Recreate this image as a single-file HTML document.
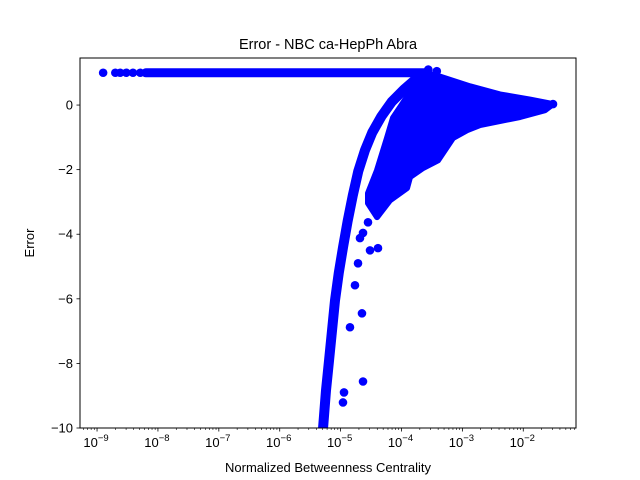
<!DOCTYPE html>
<html><head><meta charset="utf-8"><style>
html,body{margin:0;padding:0;background:#fff}
svg{display:block;font-family:"Liberation Sans","DejaVu Sans",sans-serif}
</style></head><body>
<svg id="chart" width="640" height="480" viewBox="0 0 640 480">
<rect x="0" y="0" width="640" height="480" fill="#fff"/>
<text x="328" y="49" text-anchor="middle" font-size="14.5" fill="#000">Error - NBC ca-HepPh Abra</text>
<text x="328" y="472" text-anchor="middle" font-size="13" fill="#000">Normalized Betweenness Centrality</text>
<text x="34" y="243" text-anchor="middle" font-size="13" fill="#000" transform="rotate(-90 34 243)">Error</text>
<g id="plot"></g>
<g id="axes"></g>
</svg>
<script>
// ---- data (x in log10 units, y = error) ----
const yTicks = [-10, -8, -6, -4, -2, 0];
const xDecades = [-9, -8, -7, -6, -5, -4, -3, -2];
// top plateau at error = 1
const plateauLogX = [-8.2, -3.6];
const plateauY = [1, 1];
const plateauPtsLogX = [-8.90, -8.70, -8.62, -8.52, -8.41, -8.29];
const plateauPtsY = [1, 1, 1, 1, 1, 1];
// main curve band
const curveLogX = [-5.289, -5.240, -5.190, -5.141, -5.092, -5.030, -4.960, -4.885, -4.800, -4.710, -4.600, -4.480, -4.330, -4.160, -3.960, -3.778, -3.614];
const curveY = [-10.02, -8.84, -7.91, -6.98, -6.05, -5.20, -4.40, -3.60, -2.80, -2.05, -1.40, -0.85, -0.35, 0.10, 0.48, 0.78, 0.98];
// dense cloud outline
const cloudLogX = [-3.614, -3.368, -2.875, -2.383, -1.890, -1.512, -1.644, -2.054, -2.711, -2.924, -3.154, -3.400, -3.647, -3.860, -3.909, -4.189, -4.402, -4.550, -4.550, -4.402, -4.238, -4.140, -3.910, -3.730];
const cloudY = [1.0, 0.88, 0.58, 0.33, 0.17, 0.03, -0.16, -0.37, -0.62, -0.78, -1.02, -1.71, -1.95, -2.23, -2.57, -2.95, -3.47, -3.04, -2.73, -2.02, -1.02, -0.40, 0.25, 0.62];
// scattered outliers
const outLogX = [-4.386, -4.714, -4.764, -4.846, -4.649, -4.632, -4.961, -4.944, -4.944, -4.550, -4.402, -4.304, -4.632, -4.682, -4.517, -3.417, -3.35, -3.50, -1.512, -3.56, -3.42];
const outY = [-4.43, -4.90, -5.58, -6.88, -6.45, -8.56, -9.21, -8.90, -4.19, -3.63, -3.26, -3.10, -3.96, -4.12, -4.50, -1.55, -1.40, -1.71, 0.03, 1.1, 1.05];

// ---- axes functions ----
const L = 80, R = 576, T = 58, B = 428;
const xMin = -9.28, xMax = -1.134, yMin = -10, yMax = 1.457;
const sx = v => L + (v - xMin) / (xMax - xMin) * (R - L);
const sy = v => B - (v - yMin) / (yMax - yMin) * (B - T);
const NS = "http://www.w3.org/2000/svg";
const plot = document.getElementById('plot');
const axes = document.getElementById('axes');
const blue = "#0000ff";
function mk(tag, attrs, parent) {
  const e = document.createElementNS(NS, tag);
  for (const k in attrs) e.setAttribute(k, attrs[k]);
  parent.appendChild(e);
  return e;
}
const defs = mk('defs', {}, document.getElementById('chart'));
const cp = mk('clipPath', {id: 'clip'}, defs);
mk('rect', {x: L, y: T, width: R - L, height: B - T}, cp);
plot.setAttribute('clip-path', 'url(#clip)');

const pl = mk('line', {x1: sx(plateauLogX[0]), y1: sy(plateauY[0]), x2: sx(plateauLogX[1]), y2: sy(plateauY[1]), stroke: blue, 'stroke-width': 9, 'stroke-linecap': 'round'}, plot);


for (let i = 0; i < plateauPtsLogX.length; i++) {
  const c = mk('circle', {cx: sx(plateauPtsLogX[i]), cy: sy(plateauPtsY[i]), r: 4.3, fill: blue}, plot);
  
  
}
const cpts = curveLogX.map((v, i) => sx(v) + ',' + sy(curveY[i])).join(' ');
const cl = mk('polyline', {points: cpts, fill: 'none', stroke: blue, 'stroke-width': 10, 'stroke-linejoin': 'round', 'stroke-linecap': 'round'}, plot);


const gpts = cloudLogX.map((v, i) => sx(v) + ',' + sy(cloudY[i])).join(' ');
const cg = mk('polygon', {points: gpts, fill: blue, stroke: blue, 'stroke-width': 6, 'stroke-linejoin': 'round'}, plot);


for (let i = 0; i < outLogX.length; i++) {
  const c = mk('circle', {cx: sx(outLogX[i]), cy: sy(outY[i]), r: 4.3, fill: blue}, plot);
  
  
}

const fr = mk('rect', {x: L, y: T, width: R - L, height: B - T, fill: 'none', stroke: '#000', 'stroke-width': 1}, axes);


yTicks.forEach(t => {
  const y = sy(t);
  mk('line', {x1: L - 3.5, x2: L, y1: y, y2: y, stroke: '#000', 'stroke-width': 0.8}, axes);
  const tx = mk('text', {x: L - 7, y: y + 4.5, 'text-anchor': 'end', 'font-size': 13}, axes);
  tx.textContent = (t < 0 ? '\u2212' + (-t) : String(t));
  
  
});
xDecades.forEach(d => {
  const x = sx(d);
  mk('line', {x1: x, x2: x, y1: B, y2: B + 3.5, stroke: '#000', 'stroke-width': 0.8}, axes);
  const tx = mk('text', {x: x - 1, y: B + 19, 'text-anchor': 'middle', 'font-size': 13}, axes);
  tx.textContent = '10';
  const sup = mk('tspan', {dy: -6, 'font-size': 9.5}, tx);
  sup.textContent = '\u2212' + (-d);
  
  
});
for (let d = -10; d <= -1; d++) {
  for (let m = 2; m <= 9; m++) {
    const v = d + Math.log10(m);
    if (v < xMin || v > xMax) continue;
    const x = sx(v);
    mk('line', {x1: x, x2: x, y1: B, y2: B + 2, stroke: '#000', 'stroke-width': 0.6}, axes);
  }
}
</script>
</body></html>
